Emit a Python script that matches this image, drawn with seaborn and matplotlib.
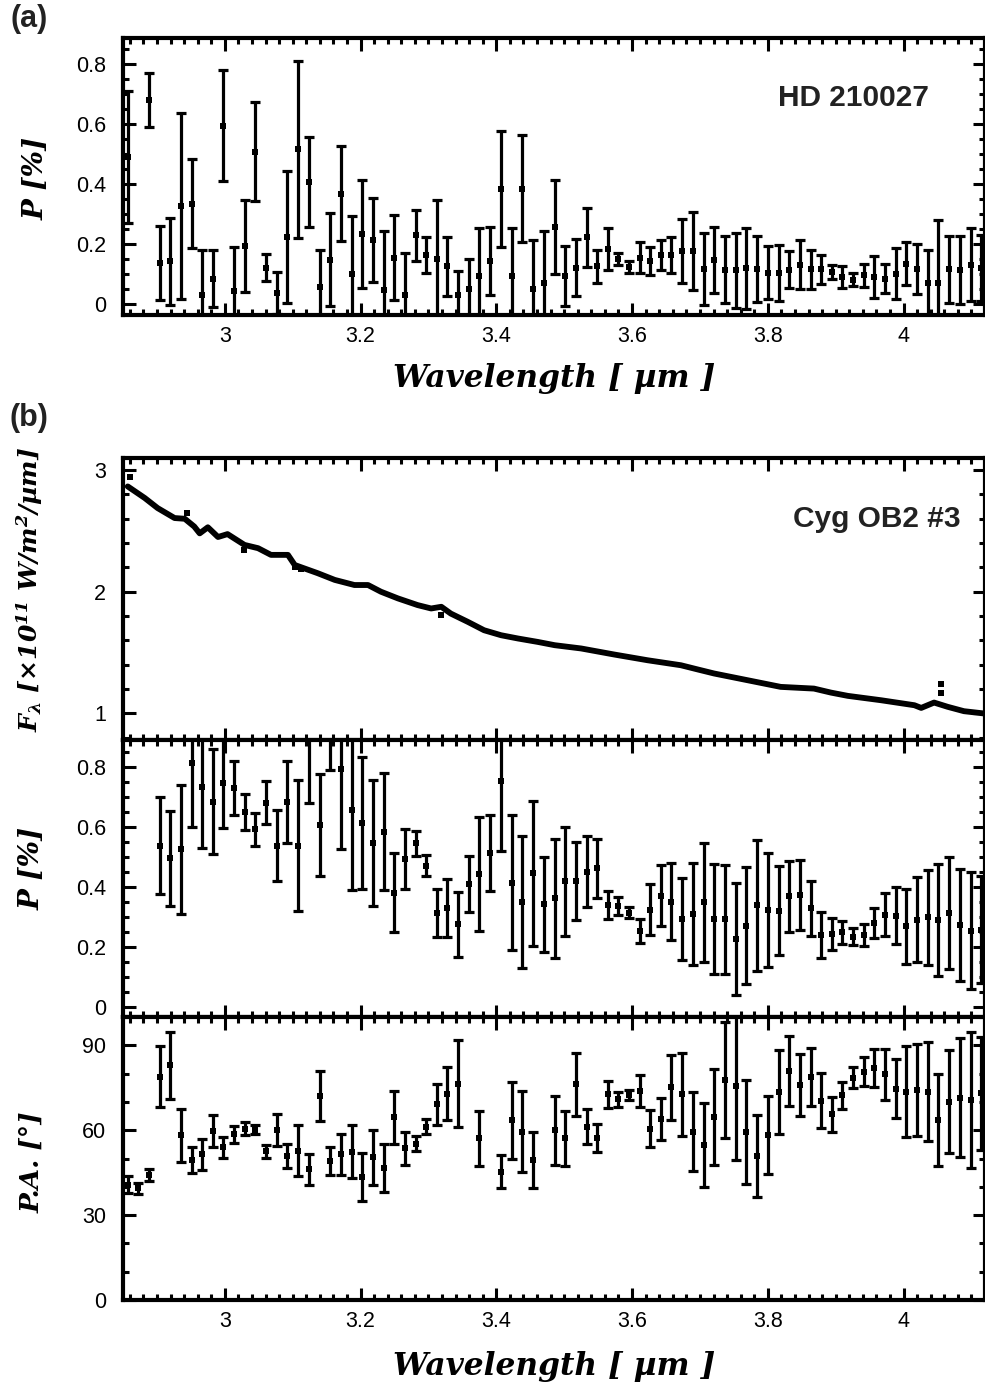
import numpy as np
import pandas as pd
import matplotlib
matplotlib.use("Agg")
import matplotlib.pyplot as plt
import seaborn as sns
from matplotlib.ticker import MultipleLocator, FixedLocator, FixedFormatter

sns.set_style("ticks")
plt.rcParams['font.family'] = ['Liberation Sans', 'DejaVu Sans']
plt.rcParams['mathtext.fontset'] = 'custom'
plt.rcParams['mathtext.it'] = 'DejaVu Serif:italic:bold'
plt.rcParams['mathtext.rm'] = 'DejaVu Serif:italic:bold'
plt.rcParams['mathtext.bf'] = 'DejaVu Serif:italic:bold'
for k in ['text.color', 'xtick.color', 'ytick.color', 'axes.labelcolor', 'axes.edgecolor']:
    plt.rcParams[k] = 'black'

# ---------------- data ----------------
wavelength = [2.857, 2.872, 2.888, 2.904, 2.919, 2.935, 2.951, 2.967, 2.982, 2.998,
              3.014, 3.030, 3.045, 3.061, 3.077, 3.092, 3.108, 3.124, 3.140, 3.155,
              3.171, 3.187, 3.202, 3.218, 3.234, 3.250, 3.265, 3.281, 3.297, 3.312,
              3.328, 3.344, 3.360, 3.375, 3.391, 3.407, 3.423, 3.438, 3.454, 3.470,
              3.486, 3.501, 3.517, 3.533, 3.548, 3.564, 3.580, 3.595, 3.611, 3.627,
              3.643, 3.658, 3.674, 3.690, 3.706, 3.721, 3.737, 3.753, 3.768, 3.784,
              3.800, 3.816, 3.831, 3.847, 3.863, 3.878, 3.894, 3.910, 3.926, 3.941,
              3.957, 3.973, 3.989, 4.004, 4.020, 4.036, 4.051, 4.067, 4.083, 4.099, 4.114]

nan = np.nan
# HD 210027 polarization degree [%] and errors
hd_p = [0.49, nan, 0.680, 0.137, 0.142, 0.326, 0.334, 0.028, 0.084, 0.593,
        0.043, 0.193, 0.506, 0.121, 0.037, 0.223, 0.514, 0.406, 0.056, 0.147,
        0.367, 0.101, 0.232, 0.214, 0.047, 0.154, 0.031, 0.228, 0.164, 0.151,
        0.125, 0.031, 0.048, 0.093, 0.142, 0.381, 0.093, 0.384, 0.051, 0.071,
        0.256, 0.092, 0.121, 0.221, 0.126, 0.182, 0.151, 0.123, 0.154, 0.143,
        0.162, 0.162, 0.176, 0.176, 0.115, 0.145, 0.114, 0.112, 0.119, 0.115,
        0.104, 0.103, 0.114, 0.131, 0.115, 0.115, 0.106, 0.089, 0.081, 0.095,
        0.089, 0.084, 0.101, 0.134, 0.115, 0.071, 0.071, 0.115, 0.112, 0.131, 0.120]
hd_perr = [0.22, nan, 0.090, 0.123, 0.145, 0.310, 0.147, 0.150, 0.095, 0.185,
           0.145, 0.152, 0.165, 0.045, 0.070, 0.220, 0.295, 0.150, 0.125, 0.155,
           0.158, 0.190, 0.180, 0.140, 0.195, 0.142, 0.140, 0.085, 0.060, 0.195,
           0.098, 0.080, 0.100, 0.160, 0.113, 0.193, 0.160, 0.178, 0.163, 0.170,
           0.157, 0.100, 0.094, 0.098, 0.055, 0.069, 0.020, 0.020, 0.052, 0.047,
           0.050, 0.059, 0.108, 0.130, 0.120, 0.110, 0.112, 0.125, 0.135, 0.110,
           0.088, 0.093, 0.062, 0.080, 0.064, 0.049, 0.022, 0.036, 0.022, 0.039,
           0.070, 0.048, 0.085, 0.072, 0.083, 0.110, 0.207, 0.112, 0.113, 0.122, 0.110]

# Cyg OB2 #3 polarization degree [%] and errors
cyg_p = [nan, nan, nan, 0.537, 0.494, 0.524, 0.813, 0.733, 0.683, 0.744,
         0.728, 0.650, 0.591, 0.680, 0.537, 0.683, 0.537, 0.900, 0.606, 0.930,
         0.792, 0.656, 0.613, 0.544, 0.583, 0.380, 0.491, 0.544, 0.470, 0.313,
         0.328, 0.274, 0.408, 0.441, 0.511, 0.753, 0.413, 0.350, 0.444, 0.341,
         0.361, 0.417, 0.420, 0.450, 0.461, 0.339, 0.336, 0.313, 0.253, 0.322,
         0.370, 0.350, 0.291, 0.308, 0.347, 0.292, 0.291, 0.226, 0.270, 0.337,
         0.322, 0.320, 0.367, 0.372, 0.328, 0.239, 0.242, 0.248, 0.233, 0.239,
         0.280, 0.306, 0.303, 0.267, 0.289, 0.297, 0.289, 0.311, 0.272, 0.253, 0.256]
cyg_perr = [nan, nan, nan, 0.163, 0.158, 0.216, 0.215, 0.205, 0.175, 0.150,
            0.090, 0.060, 0.054, 0.071, 0.118, 0.136, 0.220, 0.220, 0.170, 0.140,
            0.268, 0.267, 0.220, 0.210, 0.195, 0.133, 0.100, 0.042, 0.035, 0.080,
            0.097, 0.108, 0.093, 0.190, 0.127, 0.235, 0.225, 0.220, 0.243, 0.158,
            0.198, 0.183, 0.130, 0.118, 0.098, 0.047, 0.030, 0.018, 0.040, 0.085,
            0.103, 0.128, 0.137, 0.170, 0.200, 0.185, 0.182, 0.186, 0.195, 0.220,
            0.190, 0.148, 0.117, 0.118, 0.092, 0.076, 0.053, 0.038, 0.028, 0.036,
            0.050, 0.071, 0.096, 0.126, 0.142, 0.160, 0.186, 0.187, 0.187, 0.196, 0.178]

# Cyg OB2 #3 position angle [deg] and errors
cyg_pa = [40.7, 39.4, 44.2, 78.9, 82.9, 58.2, 49.4, 51.5, 59.8, 53.9,
          58.6, 60.6, 60.1, 52.5, 60.1, 50.9, 52.7, 46.2, 72.1, 49.2,
          51.5, 52.4, 43.5, 50.4, 46.8, 64.5, 53.6, 55.3, 61.3, 69.2,
          72.9, 76.5, nan, 57.2, nan, 45.4, 63.5, 59.5, 49.4, nan,
          60.0, 57.1, 76.2, 61.3, 57.2, 72.7, 70.9, 72.4, 73.9, 60.6,
          63.9, 75.1, 72.7, 59.5, 54.8, 64.7, 77.6, 75.6, 59.5, 50.9,
          58.4, 73.5, 80.9, 76.0, 78.9, 70.4, 65.6, 72.4, 78.6, 80.7,
          82.1, 79.8, 74.7, 73.6, 74.2, 73.6, 63.5, 70.1, 71.5, 70.6, 73.0]
cyg_paerr = [3.0, 2.0, 2.2, 10.7, 11.8, 9.3, 4.7, 5.4, 5.6, 3.7,
             3.0, 2.3, 1.6, 2.4, 5.6, 4.3, 9.0, 5.4, 8.9, 4.9,
             7.2, 9.4, 8.6, 9.7, 8.5, 9.4, 5.9, 2.6, 2.5, 7.3,
             9.4, 15.4, nan, 9.7, nan, 6.0, 13.7, 14.2, 9.9, nan,
             12.2, 9.7, 11.2, 6.2, 4.9, 4.8, 2.6, 1.8, 5.6, 6.4,
             7.4, 11.6, 14.7, 14.0, 14.8, 16.9, 20.5, 26.0, 18.4, 14.6,
             13.8, 14.7, 12.3, 11.1, 10.3, 9.7, 6.2, 4.8, 3.7, 5.0,
             6.7, 9.0, 10.3, 16.0, 16.4, 17.5, 16.2, 18.3, 21.0, 24.0, 20.0]

# Cyg OB2 #3 flux spectrum [x10^-11 W/m^2/um]
flux_wl = [2.857, 2.882, 2.901, 2.926, 2.941, 2.955, 2.963, 2.975, 2.990, 3.004, 3.029,
           3.049, 3.068, 3.093, 3.103, 3.137, 3.162, 3.191, 3.211, 3.230, 3.255,
           3.284, 3.304, 3.319, 3.333, 3.358, 3.382, 3.407, 3.432, 3.461, 3.486,
           3.525, 3.574, 3.623, 3.672, 3.697, 3.721, 3.770, 3.819, 3.868, 3.893,
           3.918, 3.967, 4.016, 4.026, 4.045, 4.065, 4.089, 4.119]
flux_f = [2.866, 2.771, 2.688, 2.606, 2.600, 2.536, 2.480, 2.530, 2.450, 2.474, 2.385,
          2.358, 2.303, 2.303, 2.220, 2.152, 2.097, 2.055, 2.055, 2.000, 1.945,
          1.890, 1.862, 1.876, 1.820, 1.752, 1.683, 1.642, 1.615, 1.587, 1.560,
          1.533, 1.483, 1.436, 1.395, 1.360, 1.327, 1.272, 1.217, 1.203, 1.170,
          1.143, 1.107, 1.066, 1.044, 1.088, 1.053, 1.017, 0.998]
flux_out_wl = [2.861, 2.945, 3.029, 3.104, 3.112, 3.319, 4.055, 4.055]
flux_out_f = [2.94, 2.65, 2.34, 2.20, 2.19, 1.81, 1.237, 1.165]

xticks = [3.0, 3.2, 3.4, 3.6, 3.8, 4.0]
xticklabels = ['3', '3.2', '3.4', '3.6', '3.8', '4']
p_ticks = [0, 0.2, 0.4, 0.6, 0.8]
p_ticklabels = ['0', '0.2', '0.4', '0.6', '0.8']
f_ticks = [1, 2, 3]
pa_ticks = [0, 30, 60, 90]

# ---------------- figure ----------------
W, H = 985, 1389
fig = plt.figure(figsize=(W / 100, H / 100), dpi=100)
L, R = 123, 985


def add_ax(top, bottom):
    return fig.add_axes([L / W, 1 - bottom / H, (R - L) / W, (bottom - top) / H])


LABFONT = dict(family='DejaVu Serif', weight='bold', style='italic')


def style_ax(ax, yt, ytl, yminor, ylim, show_x):
    ax.set_xlim(2.850, 4.120)
    ax.set_ylim(*ylim)
    ax.xaxis.set_major_locator(FixedLocator(xticks))
    ax.xaxis.set_minor_locator(MultipleLocator(0.02))
    ax.yaxis.set_major_locator(FixedLocator(yt))
    ax.yaxis.set_major_formatter(FixedFormatter(ytl))
    ax.yaxis.set_minor_locator(MultipleLocator(yminor))
    if show_x:
        ax.xaxis.set_major_formatter(FixedFormatter(xticklabels))
    else:
        ax.set_xticklabels([])
    ax.tick_params(which='both', direction='in', top=True, right=True,
                   bottom=True, left=True, color='black', labelcolor='black')
    ax.tick_params(which='major', length=9, width=2.2, labelsize=15.5, pad=8)
    ax.tick_params(axis='y', which='major', pad=12)
    ax.tick_params(which='minor', length=4, width=2.2)
    for s in ax.spines.values():
        s.set_linewidth(3.0)
        s.set_color('black')
    ax.set_xlabel('')
    ax.set_ylabel('')


def draw_err(ax, y, e):
    df = pd.DataFrame({'wl': wavelength, 'v': y, 'e': e}).dropna()
    ax.errorbar(df['wl'], df['v'], yerr=df['e'], fmt='none', ecolor='black',
                elinewidth=2.3, capsize=3.3, capthick=2.3, zorder=2)
    sns.scatterplot(data=df, x='wl', y='v', ax=ax, marker='s', s=20,
                    color='black', edgecolor='black', linewidth=0, zorder=3,
                    legend=False)


# (a) HD 210027
ax_a = add_ax(38, 315)
draw_err(ax_a, hd_p, hd_perr)
style_ax(ax_a, p_ticks, p_ticklabels, 0.05, (-0.037, 0.885), True)
ax_a.text(0.847, 0.785, 'HD 210027', transform=ax_a.transAxes, ha='center',
          va='center', fontsize=21.5, fontweight='bold', color='#222222')

# (b) flux
ax_f = add_ax(458, 740)
sns.lineplot(x=flux_wl, y=flux_f, ax=ax_f, color='black', linewidth=4.2,
             sort=False, zorder=2)
sns.scatterplot(x=flux_out_wl, y=flux_out_f, ax=ax_f, marker='s', s=14,
                color='black', linewidth=0, legend=False, zorder=3)
style_ax(ax_f, f_ticks, ['1', '2', '3'], 0.2, (0.78, 3.10), False)
ax_f.text(0.874, 0.785, 'Cyg OB2 #3', transform=ax_f.transAxes, ha='center',
          va='center', fontsize=21.5, fontweight='bold', color='#222222')

# (b) P
ax_p = add_ax(740, 1017)
draw_err(ax_p, cyg_p, cyg_perr)
style_ax(ax_p, p_ticks, p_ticklabels, 0.05, (-0.035, 0.889), False)

# (b) PA
ax_pa = add_ax(1017, 1300)
draw_err(ax_pa, cyg_pa, cyg_paerr)
style_ax(ax_pa, pa_ticks, ['0', '30', '60', '90'], 10, (0, 100), True)

# labels
def ftext(x, y, s, **kw):
    fig.text(x / W, 1 - y / H, s, **kw)

ftext(29, 19, '(a)', fontsize=22, fontweight='bold', ha='center', va='center', color='#222222')
ftext(29, 418, '(b)', fontsize=22, fontweight='bold', ha='center', va='center', color='#222222')
ftext(554, 379, 'Wavelength [ µm ]', fontsize=22.5, ha='center', va='center', **LABFONT)
ftext(554, 1367, 'Wavelength [ µm ]', fontsize=22.5, ha='center', va='center', **LABFONT)
ftext(36, 178, 'P [%]', fontsize=20, rotation=90, ha='center', va='center', **LABFONT)
ftext(32, 868, 'P [%]', fontsize=20, rotation=90, ha='center', va='center', **LABFONT)
ftext(32, 1162, 'P.A. [°]', fontsize=19, rotation=90, ha='center', va='center', **LABFONT)
ftext(30, 590, r'$F_{\lambda}$ [×10$^{11}$ W/m$^{2}$/µm]', fontsize=18, rotation=90,
      ha='center', va='center', **LABFONT)

fig.savefig('out.png', dpi=100, facecolor='white')
